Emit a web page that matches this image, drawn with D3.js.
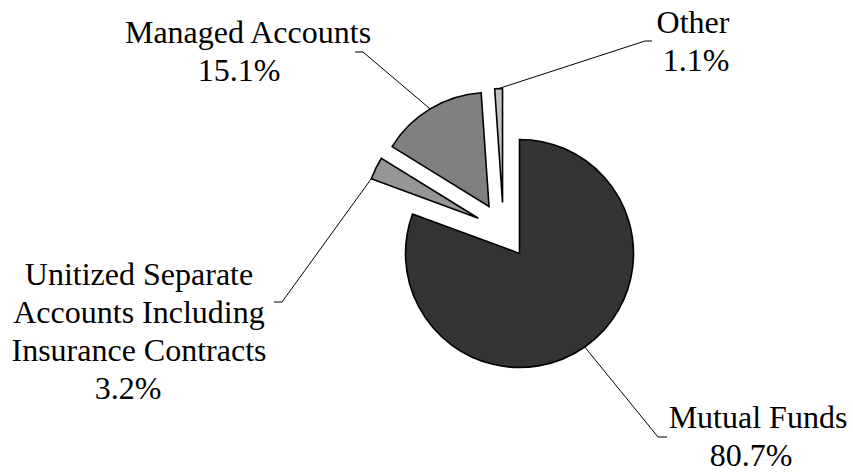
<!DOCTYPE html>
<html>
<head>
<meta charset="utf-8">
<script src="https://cdn.jsdelivr.net/npm/d3@7"></script>
<style>
  html, body { margin: 0; padding: 0; background: #fff; }
  svg { display: block; }
</style>
</head>
<body>
<svg id="chart" width="853" height="473"></svg>
<script>
// ---- data ----
const categories = ["Mutual Funds", "Unitized Separate Accounts Including Insurance Contracts", "Managed Accounts", "Other"];
const values = [80.7, 3.2, 15.1, 1.1];
const labelLines = [
  ["Mutual Funds"],
  ["Unitized Separate", "Accounts Including", "Insurance Contracts"],
  ["Managed Accounts"],
  ["Other"]
];
const colors = ["#333333", "#969696", "#808080", "#c0c0c0"];

// ---- layout ----
const W = 853, H = 473;
const cx = 503.5, cy = 230.5;
const radius = 114;
const explode = 28;
const fontSize = 32, lineH = 38;
const fontFamily = "'Liberation Serif', 'Times New Roman', Tinos, 'DejaVu Serif', serif";

// label placement: [center x, first baseline, percent-line dx]
const labelPos = [
  [758, 428, -7],
  [139, 285, -11],
  [248, 43, -9],
  [693, 33, 3]
];
// leader lines: anchor angle fraction in slice, elbow point, end point
const leaders = [
  {frac: 0.5, elbow: [658, 437], end: [667, 437]},
  {frac: 0.02, elbow: [282, 302], end: [274, 302]},
  {frac: 0.5, elbow: [363, 52], end: [355, 52]},
  {frac: 0.5, elbow: [645, 41], end: [652, 41]}
];

const svg = d3.select("#chart");
const pie = d3.pie().sort(null).value(d => d).startAngle(0).endAngle(2 * Math.PI);
const arcs = pie(values);
const arcGen = d3.arc().innerRadius(0).outerRadius(radius);

const g = svg.append("g").attr("transform", `translate(${cx},${cy})`);

function offsetOf(a) {
  const mid = (a.startAngle + a.endAngle) / 2;
  return [Math.sin(mid) * explode, -Math.cos(mid) * explode];
}

g.selectAll("path.slice")
  .data(arcs)
  .enter().append("path")
  .attr("class", "slice")
  .attr("d", arcGen)
  .attr("transform", d => { const o = offsetOf(d); return `translate(${o[0]},${o[1]})`; })
  .attr("fill", (d, i) => colors[i])
  .attr("stroke", "#000")
  .attr("stroke-width", 1.6)
  .attr("stroke-linejoin", "miter");

// leader lines
arcs.forEach((a, i) => {
  const o = offsetOf(a);
  const L = leaders[i];
  const ang = a.startAngle + (a.endAngle - a.startAngle) * L.frac;
  const px = cx + o[0] + Math.sin(ang) * radius;
  const py = cy + o[1] - Math.cos(ang) * radius;
  svg.append("polyline")
    .attr("points", `${px},${py} ${L.elbow[0]},${L.elbow[1]} ${L.end[0]},${L.end[1]}`)
    .attr("fill", "none")
    .attr("stroke", "#000")
    .attr("stroke-width", 1);
});

// labels
arcs.forEach((a, i) => {
  const [lx, ly, pdx] = labelPos[i];
  const t = svg.append("text")
    .attr("text-anchor", "middle")
    .attr("font-family", fontFamily)
    .attr("font-size", fontSize)
    .attr("fill", "#000");
  const lines = labelLines[i].concat([d3.format(".1f")(values[i]) + "%"]);
  lines.forEach((ln, k) => {
    t.append("tspan")
      .attr("x", lx + (k === lines.length - 1 ? pdx : 0))
      .attr("y", ly + k * lineH)
      .text(ln);
  });
});
</script>
</body>
</html>
